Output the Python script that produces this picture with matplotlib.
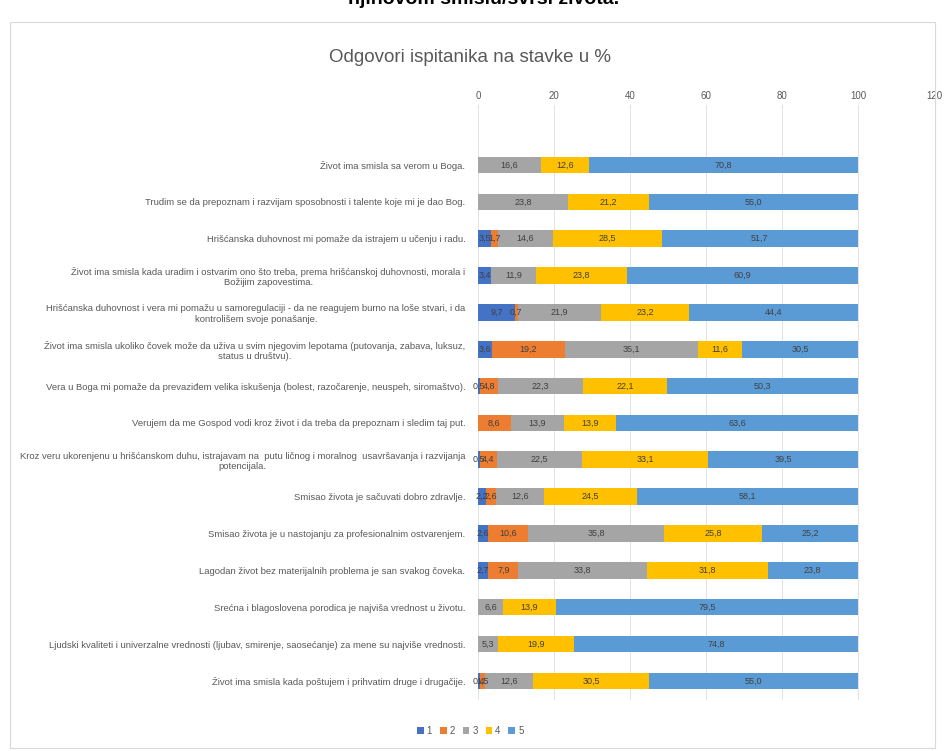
import matplotlib.pyplot as plt
from matplotlib.patches import Rectangle
import numpy as np

plt.rcParams['font.family'] = ['Liberation Sans', 'DejaVu Sans']

# kategorije (stavke), redom odozgo nadole
stavke = [
    "Život ima smisla sa verom u Boga.",
    "Trudim se da prepoznam i razvijam sposobnosti i talente koje mi je dao Bog.",
    "Hrišćanska duhovnost mi pomaže da istrajem u učenju i radu.",
    "Život ima smisla kada uradim i ostvarim ono što treba, prema hrišćanskoj duhovnosti, morala i\nBožijim zapovestima.",
    "Hrišćanska duhovnost i vera mi pomažu u samoregulaciji - da ne reagujem burno na loše stvari, i da\nkontrolišem svoje ponašanje.",
    "Život ima smisla ukoliko čovek može da uživa u svim njegovim lepotama (putovanja, zabava, luksuz,\nstatus u društvu).",
    "Vera u Boga mi pomaže da prevaziđem velika iskušenja (bolest, razočarenje, neuspeh, siromaštvo).",
    "Verujem da me Gospod vodi kroz život i da treba da prepoznam i sledim taj put.",
    "Kroz veru ukorenjenu u hrišćanskom duhu, istrajavam na  putu ličnog i moralnog  usavršavanja i razvijanja\npotencijala.",
    "Smisao života je sačuvati dobro zdravlje.",
    "Smisao života je u nastojanju za profesionalnim ostvarenjem.",
    "Lagodan život bez materijalnih problema je san svakog čoveka.",
    "Srećna i blagoslovena porodica je najviša vrednost u životu.",
    "Ljudski kvaliteti i univerzalne vrednosti (ljubav, smirenje, saosećanje) za mene su najviše vrednosti.",
    "Život ima smisla kada poštujem i prihvatim druge i drugačije.",
]

# odgovori 1-5 u %
odg1 = [0, 0, 3.5, 3.4, 9.7, 3.6, 0.5, 0, 0.5, 2.2, 2.6, 2.7, 0, 0, 0.4]
odg2 = [0, 0, 1.7, 0, 0.7, 19.2, 4.8, 8.6, 4.4, 2.6, 10.6, 7.9, 0, 0, 1.5]
odg3 = [16.6, 23.8, 14.6, 11.9, 21.9, 35.1, 22.3, 13.9, 22.5, 12.6, 35.8, 33.8, 6.6, 5.3, 12.6]
odg4 = [12.6, 21.2, 28.5, 23.8, 23.2, 11.6, 22.1, 13.9, 33.1, 24.5, 25.8, 31.8, 13.9, 19.9, 30.5]
odg5 = [70.8, 55.0, 51.7, 60.9, 44.4, 30.5, 50.3, 63.6, 39.5, 58.1, 25.2, 23.8, 79.5, 74.8, 55.0]

serije = ["1", "2", "3", "4", "5"]
boje = ["#4472C4", "#ED7D31", "#A5A5A5", "#FFC000", "#5B9BD5"]

fig = plt.figure(figsize=(9.48, 7.51), dpi=100)

# okvir grafikona
fig.patches.append(Rectangle((10 / 948, 3 / 751), 925 / 948, 726 / 751, transform=fig.transFigure,
                             fill=False, edgecolor="#d9d9d9", linewidth=0.8))

# odsečeni naslov iznad grafikona
fig.text(0.51, 1.0, "njihovom smislu/svrsi života.", ha="center", va="center",
         fontsize=14, fontweight="bold", color="black")

fig.text(0.496, 1 - 58 / 751, "Odgovori ispitanika na stavke u %", ha="center", va="center",
         fontsize=13.5, color="#595959")

ax = fig.add_axes([478 / 948, 1 - 700 / 751, 456 / 948, 595 / 751])

y = np.arange(len(stavke))
levo = np.zeros(len(stavke))
for vrednosti, ime, boja in zip([odg1, odg2, odg3, odg4, odg5], serije, boje):
    vals = np.array(vrednosti)
    bars = ax.barh(y, vals, left=levo, height=0.45, color=boja, label=ime, zorder=2)
    for b, v in zip(bars, vals):
        if v > 0:
            ax.text(b.get_x() + b.get_width() / 2, b.get_y() + b.get_height() / 2,
                    f"{v:.1f}".replace(".", ","), ha="center", va="center",
                    fontsize=6.5, color="#404040", zorder=3)
    levo += vals

ax.set_xlim(0, 120)
ax.set_ylim(14.52, -1.63)
ax.set_xticks(range(0, 121, 20))
ax.xaxis.tick_top()
ax.tick_params(axis="x", length=0, labelsize=7, labelcolor="#595959", pad=3)
ax.set_yticks(y)
ax.set_yticklabels(stavke)
ax.tick_params(axis="y", length=0, labelsize=6.8, labelcolor="#595959", pad=9)
for t in ax.get_yticklabels():
    t.set_multialignment("center")
ax.grid(axis="x", color="#e3e3e3", linewidth=0.7, zorder=0)
for s in ax.spines.values():
    s.set_visible(False)

fig.legend(loc="center", bbox_to_anchor=(0.496, 1 - 731 / 751), ncol=5, frameon=False,
           fontsize=7, handlelength=0.7, handleheight=0.7, handletextpad=0.3,
           columnspacing=0.8, labelcolor="#595959")

fig.savefig("out.png", dpi=100)
